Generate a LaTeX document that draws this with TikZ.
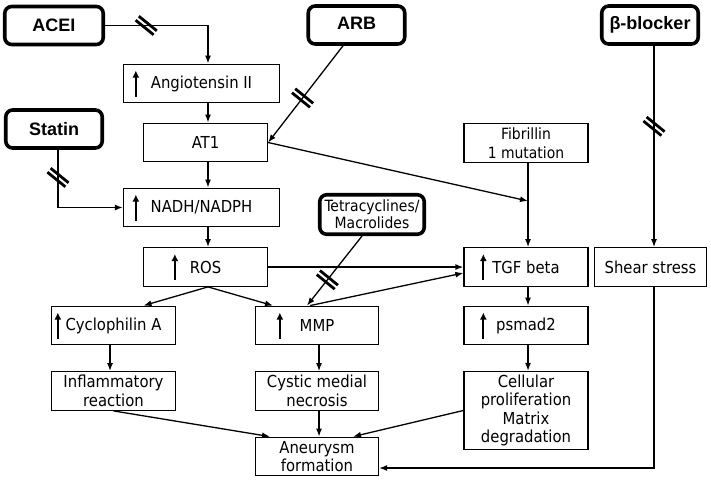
\documentclass[tikz,border=0pt]{standalone}
\usepackage{fontspec}
\setmainfont{DejaVu Sans Condensed}
\newfontfamily\drugfont{Liberation Sans}
\usetikzlibrary{arrows.meta}

\begin{document}
\begin{tikzpicture}[x=1pt, y=-1pt,
                    box/.style={rectangle, draw, line width=1.3pt, inner sep=0pt,
                                align=center, minimum width=124pt, minimum height=38.5pt,
                                font=\fontsize{16.5}{18.5}\selectfont},
                    drug/.style={rectangle, draw, line width=3.6pt, rounded corners=7pt,
                                 inner sep=0pt, align=center, minimum width=96.5pt,
                                 minimum height=38pt,
                                 font=\drugfont\bfseries\fontsize{18}{20}\selectfont},
                    link/.style={line width=1.3pt, -{Latex[length=8pt, width=6pt]}},
                    rise/.style={line width=2pt, -{Latex[length=7pt, width=7pt]}},
                    cut/.pic={\draw [line width=2.8pt, arrows=-]
                                (-10.6, -5.3) -- (7.4, 9.3)
                                (-7.4, -9.3) -- (10.6, 5.3);}]
  \useasboundingbox (0, 0) rectangle (711, 480);

  % Drugs.
  \node at (54, 25.5) [drug, minimum width=98.5pt, name=ACEI] {ACEI};
  \node at (356.5, 25) [drug, name=ARB] {\raisebox{3pt}{ARB}};
  \node at (650, 25) [drug, name=BetaBlocker] {β-blocker};
  \node at (54, 129) [drug, name=Statin] {Statin};
  \node at (372, 214.5) [drug, minimum width=104.5pt, minimum height=39.5pt,
                         font=\fontsize{15.5}{17}\selectfont, name=Tetracyclines]
        {Tetracyclines/\\Macrolides};

  % Pathway.
  \node at (201.5, 83.5) [box, minimum width=156pt, name=AngiotensinII] {Angiotensin II};
  \node at (205.5, 142.5) [box, name=AT1] {AT1};
  \node at (201.5, 207.5) [box, minimum width=156pt, name=NADH] {NADH/NADPH};
  \node at (205.5, 267) [box, name=ROS] {ROS};
  \node at (113.5, 325.5) [box, name=CyclophilinA] {Cyclophilin A};
  \node at (113.5, 391) [box, name=Inflammatory] {Inflammatory\\reaction};
  \node at (317, 325.5) [box, minimum width=123pt, name=MMP] {MMP};
  \node at (317, 391) [box, minimum width=123pt, name=CysticNecrosis] {Cystic medial\\necrosis};
  \node at (317, 456.5) [box, minimum width=123pt, name=Aneurysm] {Aneurysm\\formation};
  \node at (526, 143) [box, font=\fontsize{15.5}{19}\selectfont, name=Fibrillin]
        {Fibrillin\\1 mutation};
  \node at (526, 267) [box, name=TGFbeta] {TGF beta};
  \node at (526, 325.5) [box, name=Psmad2] {psmad2};
  \node at (526, 410.5) [box, minimum height=78pt, name=Proliferation]
        {Cellular\\proliferation\\Matrix\\degradation};
  \node at (650.5, 267) [box, minimum width=112pt, name=ShearStress] {Shear stress};

  % Columns the vertical connectors run along.
  \coordinate (StatinLine) at (58, 0);
  \coordinate (ColA) at (110, 0);
  \coordinate (ColB) at (208, 0);
  \coordinate (ColC) at (319, 0);
  \coordinate (ColD) at (528, 0);
  \coordinate (ColE) at (654, 0);
  \coordinate (TGFjoin) at (528, 201);

  % Increase marks.
  \foreach \n/\dx in {AngiotensinII/13, NADH/13, ROS/32, CyclophilinA/7,
                      MMP/25, TGFbeta/20, Psmad2/20}
    \draw [rise] ([xshift=\dx pt, yshift=-13pt]\n.west) -- ++(0, -26);

  % Main pathway.
  \draw [link] (AngiotensinII.south -| ColB) -- (AT1.north -| ColB);
  \draw [link] (AT1.south -| ColB) -- (NADH.north -| ColB);
  \draw [link] (NADH.south -| ColB) -- (ROS.north -| ColB);
  \draw [link] (ROS.south -| ColB) -- ([xshift=30pt]CyclophilinA.north);
  \draw [link] (ROS.south -| ColB) -- ([xshift=-44pt]MMP.north);
  \draw [link] (ROS.east) -- (TGFbeta.west);
  \draw [link] ([xshift=-7pt]MMP.north) -- ([yshift=-6pt]TGFbeta.west);
  \draw [link] (AT1.east) -- (TGFjoin);
  \draw [link] (Fibrillin.south -| ColD) -- (TGFbeta.north -| ColD);
  \draw [link] (TGFbeta.south -| ColD) -- (Psmad2.north -| ColD);
  \draw [link] (Psmad2.south -| ColD) -- (Proliferation.north -| ColD);
  \draw [link] (CyclophilinA.south -| ColA) -- (Inflammatory.north -| ColA);
  \draw [link] (MMP.south -| ColC) -- (CysticNecrosis.north -| ColC);
  \draw [link] (CysticNecrosis.south -| ColC) -- (Aneurysm.north -| ColC);
  \draw [link] (Inflammatory.south) -- ([xshift=-47pt]Aneurysm.north);
  \draw [link] (Proliferation.west) -- ([xshift=36pt]Aneurysm.north);
  \draw [link] (ShearStress.south -| ColE) |- ([yshift=-11.5pt]Aneurysm.east);

  % Drug actions, blocked.
  \draw [link] (ACEI.east) -| pic [pos=0.2] {cut} (AngiotensinII.north -| ColB);
  \draw [link] ([xshift=-13.5pt]ARB.south) -- pic [pos=0.54] {cut} (AT1.east);
  \draw [link] (Statin.south -| StatinLine) |- pic [pos=0.24] {cut} (NADH.west);
  \draw [link] (BetaBlocker.south -| ColE) -- pic [pos=0.4] {cut} (ShearStress.north -| ColE);
  \draw [link] ([xshift=-10pt]Tetracyclines.south)
               -- pic [pos=0.63] {cut}
               ([xshift=-10pt]MMP.north);
\end{tikzpicture}
\end{document}
